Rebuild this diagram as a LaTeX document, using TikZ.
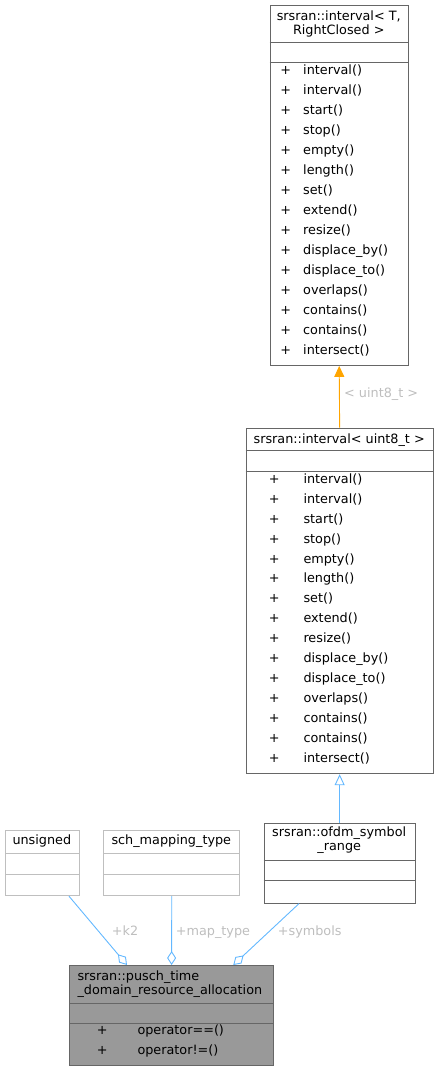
\documentclass[tikz,border=0pt]{standalone}
\usepackage{fontspec}
\setmainfont{DejaVu Sans}
\usetikzlibrary{arrows.meta,calc}
\definecolor{edgeblue}{HTML}{63B8FF}
\definecolor{lblgray}{HTML}{BEBEBE}
\definecolor{darkborder}{HTML}{666666}
\definecolor{lightborder}{HTML}{BFBFBF}
\definecolor{mainfill}{HTML}{999999}
\definecolor{inhorange}{HTML}{FFA500}
\begin{document}
\begin{tikzpicture}[x=1pt,y=-1pt,
  font=\fontsize{12.8}{14}\selectfont,
  box/.style={draw=darkborder, line width=0.9pt, fill=white, inner sep=0, anchor=north west, rectangle},
  lbox/.style={box, draw=lightborder},
  sepline/.style={darkborder, line width=0.9pt},
  lsepline/.style={lightborder, line width=0.9pt},
  txt/.style={inner sep=0, text height=0.75em, text depth=0.25em},
  lbl/.style={txt, anchor=west, text=lblgray},
  rel/.style={edgeblue, line width=0.9pt},
]
\useasboundingbox (0,0) rectangle (438,1071);

% ---- top box: srsran::interval< T, RightClosed >
\node[box, minimum width=138.5pt, minimum height=360pt] (top) at (269.5,5) {};
\draw[sepline] ($(top.north west)+(0,37.3)$) -- ($(top.north east)+(0,37.3)$);
\draw[sepline] ($(top.north west)+(0,57.3)$) -- ($(top.north east)+(0,57.3)$);
\node[txt] (toptitleA) at (338.75,18) {srsran::interval< T,};
\node[txt] (toptitleB) at (338.75,32) {RightClosed >};
\foreach \n [count=\i from 0] in {interval(),interval(),start(),stop(),empty(),length(),set(),extend(),resize(),displace\_by(),displace\_to(),overlaps(),contains(),contains(),intersect()}{
  \node[txt] (tp\i) at (285.7,72+20*\i) {+};
  \node[txt, anchor=west] (tn\i) at (303,72+20*\i) {\n};
}

% ---- middle box: srsran::interval< uint8_t >
\node[box, minimum width=187pt, minimum height=345.6pt] (mid) at (245.7,427.7) {};
\draw[sepline] ($(mid.north west)+(0,23)$) -- ($(mid.north east)+(0,23)$);
\draw[sepline] ($(mid.north west)+(0,43.3)$) -- ($(mid.north east)+(0,43.3)$);
\node[txt] (midtitle) at (339.2,441) {srsran::interval< uint8\_t >};
\foreach \n [count=\i from 0] in {interval(),interval(),start(),stop(),empty(),length(),set(),extend(),resize(),displace\_by(),displace\_to(),overlaps(),contains(),contains(),intersect()}{
  \node[txt] (mp\i) at (274.3,480.7+19.95*\i) {+};
  \node[txt, anchor=west] (mn\i) at (303.3,480.7+19.95*\i) {\n};
}

% ---- unsigned
\node[lbox, minimum width=73.7pt, minimum height=65.3pt] (un) at (5,830) {};
\draw[lsepline] ($(un.north west)+(0,23.3)$) -- ($(un.north east)+(0,23.3)$);
\draw[lsepline] ($(un.north west)+(0,44)$) -- ($(un.north east)+(0,44)$);
\node[txt] (untitle) at (41.85,842.3) {unsigned};

% ---- sch_mapping_type
\node[lbox, minimum width=136pt, minimum height=65.3pt] (smt) at (103.3,830) {};
\draw[lsepline] ($(smt.north west)+(0,23.3)$) -- ($(smt.north east)+(0,23.3)$);
\draw[lsepline] ($(smt.north west)+(0,44)$) -- ($(smt.north east)+(0,44)$);
\node[txt] (smttitle) at (171.3,842.3) {sch\_mapping\_type};

% ---- srsran::ofdm_symbol_range
\node[box, minimum width=151pt, minimum height=80pt] (ofdm) at (263.7,822.7) {};
\draw[sepline] ($(ofdm.north west)+(0,37.3)$) -- ($(ofdm.north east)+(0,37.3)$);
\draw[sepline] ($(ofdm.north west)+(0,57.3)$) -- ($(ofdm.north east)+(0,57.3)$);
\node[txt] (ofdmtitleA) at (339.2,834.3) {srsran::ofdm\_symbol};
\node[txt] (ofdmtitleB) at (339.2,848.3) {\_range};

% ---- main class
\node[box, fill=mainfill, minimum width=204.3pt, minimum height=100pt] (alloc) at (69,965) {};
\draw[sepline] ($(alloc.north west)+(0,38.3)$) -- ($(alloc.north east)+(0,38.3)$);
\draw[sepline] ($(alloc.north west)+(0,58.3)$) -- ($(alloc.north east)+(0,58.3)$);
\node[txt, anchor=west] (alloctitleA) at (77.3,977.7) {srsran::pusch\_time};
\node[txt, anchor=west] (alloctitleB) at (77.3,992) {\_domain\_resource\_allocation};
\node[txt] (ap0) at (102.3,1032.3) {+};
\node[txt, anchor=west] (an0) at (137.3,1032.3) {operator==()};
\node[txt] (ap1) at (102.3,1052.3) {+};
\node[txt, anchor=west] (an1) at (137.3,1052.3) {operator!=()};

% ---- connectors
\draw[inhorange, line width=0.9pt, -{Triangle[length=11pt,width=10pt]}] (mid.north) -- (top.south);
\node[lbl] (tplbl) at (344,395) {< uint8\_t >};

\draw[rel, -{Triangle[open,length=11pt,width=10pt,fill=white]}] (ofdm.north) -- (mid.south);

\draw[rel, -{Diamond[open,length=14pt,width=9pt,fill=white]}] ($(un.south west)+(64,0)$) -- ($(alloc.north west)+(58,0)$);
\node[lbl] (k2lbl) at (111.7,932.7) {+k2};

\draw[rel, -{Diamond[open,length=14pt,width=9pt,fill=white]}] (smt.south) -- (alloc.north);
\node[lbl] (maplbl) at (175.7,932.7) {+map\_type};

\draw[rel, -{Diamond[open,length=14pt,width=9pt,fill=white]}] ($(ofdm.south west)+(35.3,0)$) -- ($(alloc.north west)+(164.3,0)$);
\node[lbl] (symlbl) at (277.7,932.7) {+symbols};
\end{tikzpicture}
\end{document}
